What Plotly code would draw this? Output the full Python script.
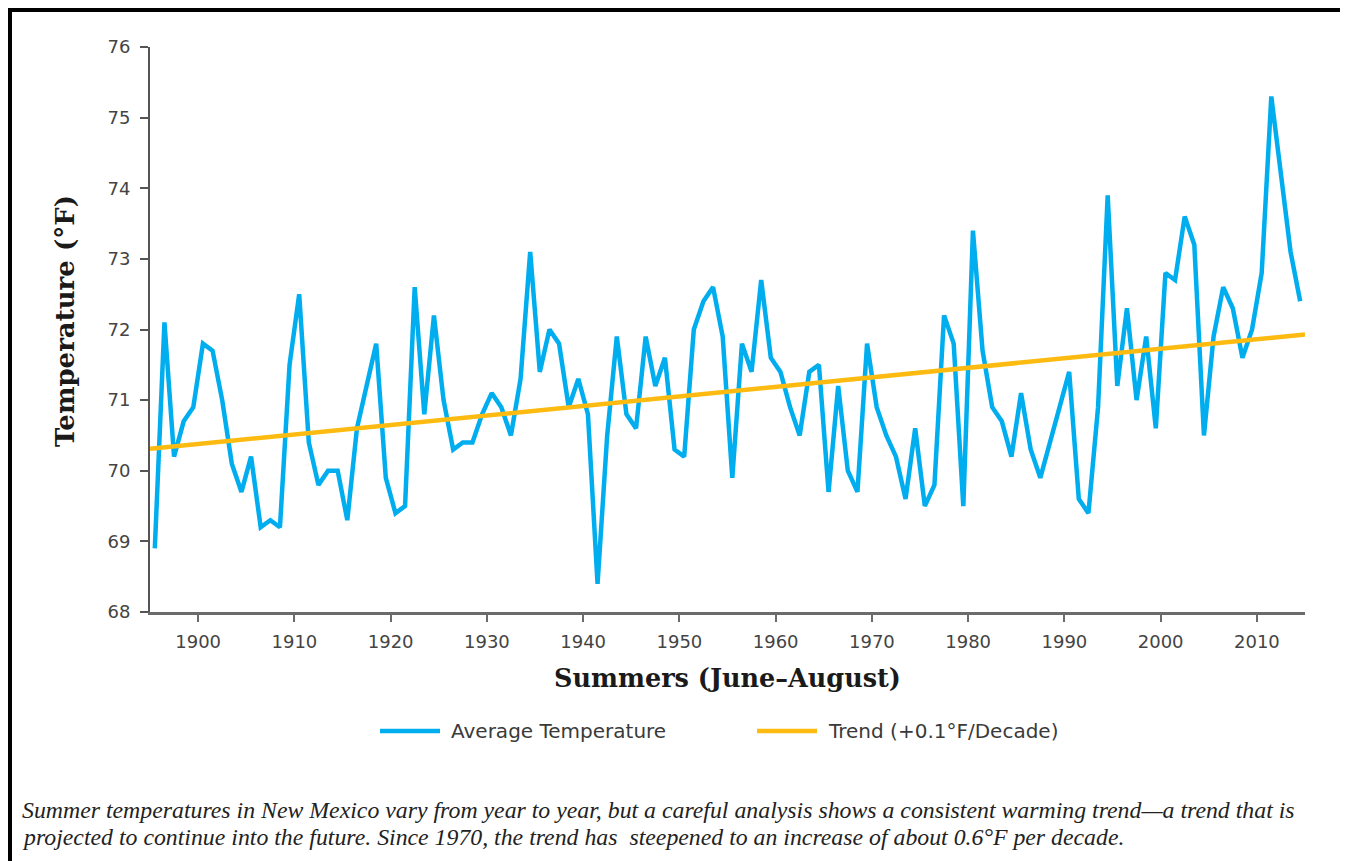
import plotly.graph_objects as go

years = list(range(1895, 2015))
avg_temp = [
    68.9, 72.1, 70.2, 70.7, 70.9,            # 1895-1899
    71.8, 71.7, 71.0, 70.1, 69.7, 70.2, 69.2, 69.3, 69.2, 71.5,   # 1900-1909
    72.5, 70.4, 69.8, 70.0, 70.0, 69.3, 70.6, 71.2, 71.8, 69.9,   # 1910-1919
    69.4, 69.5, 72.6, 70.8, 72.2, 71.0, 70.3, 70.4, 70.4, 70.8,   # 1920-1929
    71.1, 70.9, 70.5, 71.3, 73.1, 71.4, 72.0, 71.8, 70.9, 71.3,   # 1930-1939
    70.8, 68.4, 70.5, 71.9, 70.8, 70.6, 71.9, 71.2, 71.6, 70.3,   # 1940-1949
    70.2, 72.0, 72.4, 72.6, 71.9, 69.9, 71.8, 71.4, 72.7, 71.6,   # 1950-1959
    71.4, 70.9, 70.5, 71.4, 71.5, 69.7, 71.2, 70.0, 69.7, 71.8,   # 1960-1969
    70.9, 70.5, 70.2, 69.6, 70.6, 69.5, 69.8, 72.2, 71.8, 69.5,   # 1970-1979
    73.4, 71.7, 70.9, 70.7, 70.2, 71.1, 70.3, 69.9, 70.4, 70.9,   # 1980-1989
    71.4, 69.6, 69.4, 70.9, 73.9, 71.2, 72.3, 71.0, 71.9, 70.6,   # 1990-1999
    72.8, 72.7, 73.6, 73.2, 70.5, 71.9, 72.6, 72.3, 71.6, 72.0,   # 2000-2009
    72.8, 75.3, 74.2, 73.1, 72.4,                                 # 2010-2014
]
trend_years = [1894.5, 2014.5]
trend_vals = [70.31, 71.93]

tick_years = [1900, 1910, 1920, 1930, 1940, 1950, 1960, 1970, 1980, 1990, 2000, 2010]
y_ticks = [68, 69, 70, 71, 72, 73, 74, 75, 76]

series_names = ["Average Temperature", "Trend (+0.1°F/Decade)"]
x_title = "Summers (June–August)"
y_title = "Temperature (°F)"
caption_lines = [
    "Summer temperatures in New Mexico vary from year to year, but a careful analysis shows a consistent warming trend—a trend that is",
    "projected to continue into the future. Since 1970, the trend has  steepened to an increase of about 0.6°F per decade.",
]

BLUE = "#00AEEF"
ORANGE = "#FDBB12"
colors = [BLUE, ORANGE]

fig = go.Figure()
fig.add_trace(go.Scatter(x=years, y=avg_temp, mode="lines", name=series_names[0],
                         line=dict(color=BLUE, width=4.5), showlegend=False))
fig.add_trace(go.Scatter(x=trend_years, y=trend_vals, mode="lines", name=series_names[1],
                         line=dict(color=ORANGE, width=4.5), showlegend=False))

# page body has an 8px margin; work in page pixels and shift
OFF = 8
W, H = 1348 - OFF, 861 - OFF
L, R, T, B = 150, 1305, 47, 612   # plot area in page pixels
pw, ph = R - L, B - T
def px(x):
    return (x - L) / pw
def py(y):
    return (B - y) / ph

annotations = [
    dict(text=x_title, x=px(727), y=py(678), xref="paper", yref="paper",
         showarrow=False, xanchor="center", yanchor="middle",
         font=dict(family="DejaVu Serif", size=25.5, color="#1a1a1a", weight="bold")),
    dict(text=y_title, x=px(65), y=py(321), xref="paper", yref="paper",
         showarrow=False, xanchor="center", yanchor="middle", textangle=-90,
         font=dict(family="DejaVu Serif", size=26, color="#1a1a1a", weight="bold")),
]
for i, line in enumerate(caption_lines):
    annotations.append(dict(text=line, x=px(20), y=py(810 + 27 * i), xref="paper", yref="paper",
                            showarrow=False, xanchor="left", yanchor="middle", align="left",
                            font=dict(family="Liberation Serif", size=23.8, color="#222222",
                                      style="italic")))

shapes = [
    dict(type="rect", xref="paper", yref="paper",
         x0=px(10), x1=px(1344), y0=py(900), y1=py(10),
         line=dict(color="black", width=4), fillcolor="rgba(0,0,0,0)", layer="above"),
]

# custom legend (long line swatches)
legend_x = [380, 757]
for i, name in enumerate(series_names):
    x0 = legend_x[i]
    shapes.append(dict(type="line", xref="paper", yref="paper",
                       x0=px(x0), x1=px(x0 + 60), y0=py(731), y1=py(731),
                       line=dict(color=colors[i], width=4.5)))
    annotations.append(dict(text=name, x=px(x0 + 69), y=py(731), xref="paper", yref="paper",
                            showarrow=False, xanchor="left", yanchor="middle",
                            font=dict(family="DejaVu Sans", size=20, color="#3a3a3a")))

fig.update_layout(
    width=W, height=H,
    margin=dict(l=L - OFF, r=(W + OFF) - R, t=T - OFF, b=(H + OFF) - B),
    paper_bgcolor="white", plot_bgcolor="white",
    showlegend=False,
    xaxis=dict(range=[1894.5, 2014.5], tickvals=[t - 0.5 for t in tick_years],
               ticktext=[str(t) for t in tick_years],
               showgrid=False, zeroline=False, showline=True, linecolor="#6b6b6b", linewidth=3,
               ticks="outside", ticklen=7, tickwidth=2, tickcolor="#6b6b6b",
               ticklabelstandoff=4,
               tickfont=dict(family="DejaVu Sans", size=18, color="#444444")),
    yaxis=dict(range=[68, 76], tickvals=y_ticks, showgrid=False, zeroline=False,
               showline=True, linecolor="#555555", linewidth=2,
               ticks="outside", ticklen=8, tickwidth=1.5, tickcolor="#555555",
               ticklabelstandoff=6,
               tickfont=dict(family="DejaVu Sans", size=18, color="#444444")),
    annotations=annotations,
    shapes=shapes,
)

fig.write_html("out.html")
